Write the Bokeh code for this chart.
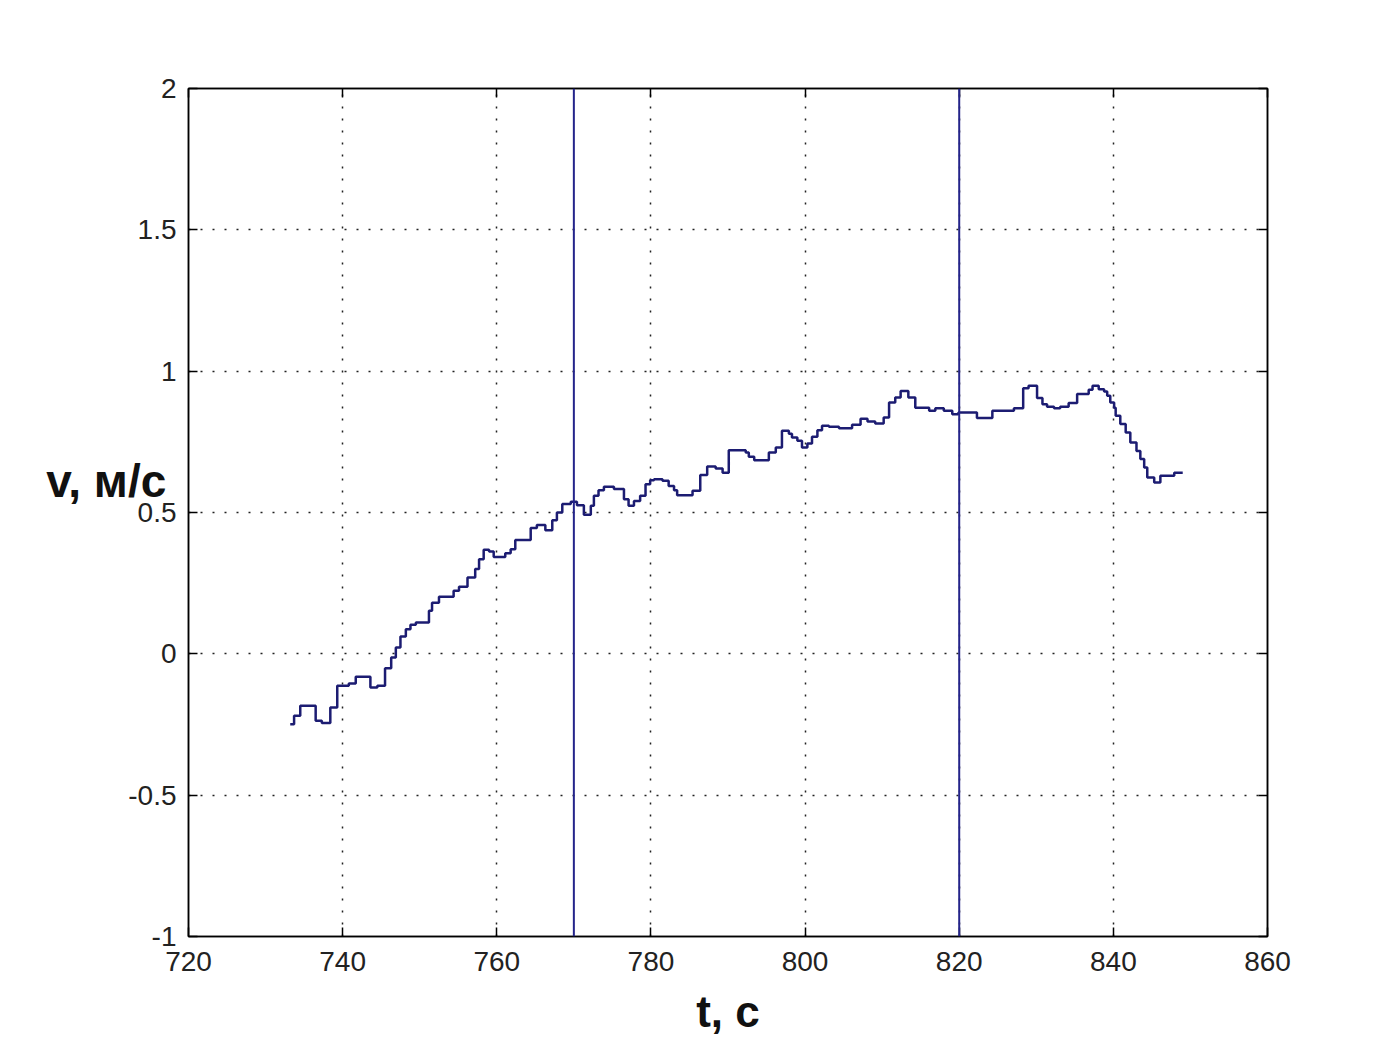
from bokeh.plotting import figure
from bokeh.models import Span, LinearAxis, FixedTicker, Range1d
from bokeh.embed import file_html
from bokeh.resources import INLINE

# step series: time of each level change (s) and velocity level (m/s)
t_values = [
    733.2, 733.7, 734.5, 736.5, 737.3, 738.4, 739.3, 740.8, 741.7, 743.6,
    744.5, 745.5, 746.3, 746.9, 747.5, 748.2, 748.8, 749.5, 751.2, 751.6,
    752.5, 754.4, 755.1, 756.2, 757.2, 757.7, 758.3, 759.0, 759.6, 761.1,
    761.8, 762.4, 764.4, 765.2, 766.3, 767.2, 767.8, 768.5, 769.6, 770.4,
    771.3, 772.2, 772.6, 773.2, 773.9, 775.2, 776.5, 777.1, 777.8, 778.6,
    779.3, 779.9, 780.4, 781.5, 782.3, 783.0, 783.4, 785.4, 786.4, 787.3,
    788.4, 789.3, 790.1, 792.3, 792.7, 793.4, 795.3, 796.2, 797.0, 797.9,
    798.3, 799.0, 799.6, 800.3, 800.9, 801.6, 802.2, 803.1, 804.4, 806.1,
    807.2, 808.1, 809.1, 810.2, 810.9, 811.7, 812.4, 813.4, 814.3, 816.1,
    816.9, 818.0, 819.1, 819.9, 822.3, 824.3, 827.1, 828.3, 829.0, 830.1,
    830.8, 831.4, 832.3, 833.1, 834.2, 835.3, 836.8, 837.3, 838.1, 838.8,
    839.2, 839.6, 840.1, 840.3, 840.9, 841.6, 842.2, 843.0, 843.5, 844.0,
    844.4, 845.3, 846.1, 847.9, 849.0,
]
v_values = [
    -0.249, -0.219, -0.184, -0.237, -0.245, -0.190, -0.113, -0.105, -0.081, -0.119,
    -0.113, -0.051, -0.013, 0.022, 0.061, 0.087, 0.103, 0.111, 0.152, 0.181,
    0.202, 0.223, 0.237, 0.270, 0.300, 0.335, 0.368, 0.362, 0.343, 0.356,
    0.370, 0.403, 0.445, 0.456, 0.437, 0.473, 0.500, 0.530, 0.538, 0.526,
    0.492, 0.524, 0.559, 0.579, 0.591, 0.583, 0.547, 0.524, 0.541, 0.559,
    0.600, 0.614, 0.618, 0.612, 0.594, 0.579, 0.561, 0.577, 0.633, 0.663,
    0.656, 0.641, 0.720, 0.712, 0.697, 0.685, 0.712, 0.730, 0.789, 0.779,
    0.765, 0.754, 0.730, 0.744, 0.768, 0.791, 0.807, 0.803, 0.798, 0.810,
    0.832, 0.822, 0.815, 0.836, 0.889, 0.907, 0.930, 0.907, 0.871, 0.860,
    0.869, 0.860, 0.848, 0.854, 0.834, 0.860, 0.869, 0.940, 0.948, 0.905,
    0.883, 0.874, 0.869, 0.874, 0.887, 0.919, 0.934, 0.948, 0.936, 0.928,
    0.913, 0.889, 0.871, 0.842, 0.813, 0.783, 0.748, 0.718, 0.689, 0.659,
    0.624, 0.606, 0.630, 0.641, 0.641,
]
x_ticks = [720, 740, 760, 780, 800, 820, 840, 860]
y_ticks = [-1, -0.5, 0, 0.5, 1, 1.5, 2]
y_tick_labels = ["-1", "-0.5", "0", "0.5", "1", "1.5", "2"]
marker_times = [770, 820]
x_label = "t, с"
y_label = "v, м/с"

W, H = 1383, 1043
p = figure(width=W, height=H, output_backend="svg", toolbar_location=None,
           x_range=Range1d(720, 860), y_range=Range1d(-1, 2),
           min_border_left=188, min_border_right=116,
           min_border_top=88, min_border_bottom=107,
           background_fill_color="white", border_fill_color="white")
p.outline_line_color = "black"
p.outline_line_width = 1.5

FONT = "Liberation Sans"

def style_axis(ax, show_labels):
    ax.axis_line_color = "black"
    ax.axis_line_width = 1.5
    ax.major_tick_in = 9
    ax.major_tick_out = 0
    ax.major_tick_line_color = "black"
    ax.major_tick_line_width = 1.5
    ax.minor_tick_line_color = None
    ax.major_label_text_font = FONT
    ax.major_label_text_font_size = "28px"
    ax.major_label_text_color = "#222222" if show_labels else None
    ax.major_label_standoff = 10

xa = p.xaxis[0]
xa.ticker = FixedTicker(ticks=x_ticks)
style_axis(xa, True)
xa.major_label_standoff = 15
xa.axis_label = x_label
xa.axis_label_text_font = FONT
xa.axis_label_text_font_size = "44px"
xa.axis_label_text_font_style = "bold"
xa.axis_label_text_color = "#111111"
xa.axis_label_standoff = 13

ya = p.yaxis[0]
ya.ticker = FixedTicker(ticks=y_ticks)
ya.major_label_overrides = {float(k): s for k, s in zip(y_ticks, y_tick_labels)}
style_axis(ya, True)
ya.major_label_standoff = 12
ya.axis_label = y_label + "\n "
ya.axis_label_text_font = FONT
ya.axis_label_text_font_size = "46px"
ya.axis_label_text_font_style = "bold"
ya.axis_label_text_color = "#111111"
if "axis_label_orientation" in ya.properties():
    ya.axis_label_orientation = "horizontal"
ya.axis_label_standoff = -41

top = LinearAxis(ticker=FixedTicker(ticks=x_ticks))
style_axis(top, False)
p.add_layout(top, "above")
right = LinearAxis(ticker=FixedTicker(ticks=y_ticks))
style_axis(right, False)
p.add_layout(right, "right")

for g, tk in ((p.xgrid[0], x_ticks), (p.ygrid[0], y_ticks)):
    g.ticker = FixedTicker(ticks=tk)
    g.grid_line_color = "#222222"
    g.grid_line_width = 1.5
    g.grid_line_dash = "2 10"

p.step(t_values, v_values, mode="after", line_color="#1c1c72", line_width=2.5)

for mt in marker_times:
    p.add_layout(Span(location=mt, dimension="height", line_color="#24248a", line_width=2))

open("out.html", "w").write(file_html(p, INLINE))
